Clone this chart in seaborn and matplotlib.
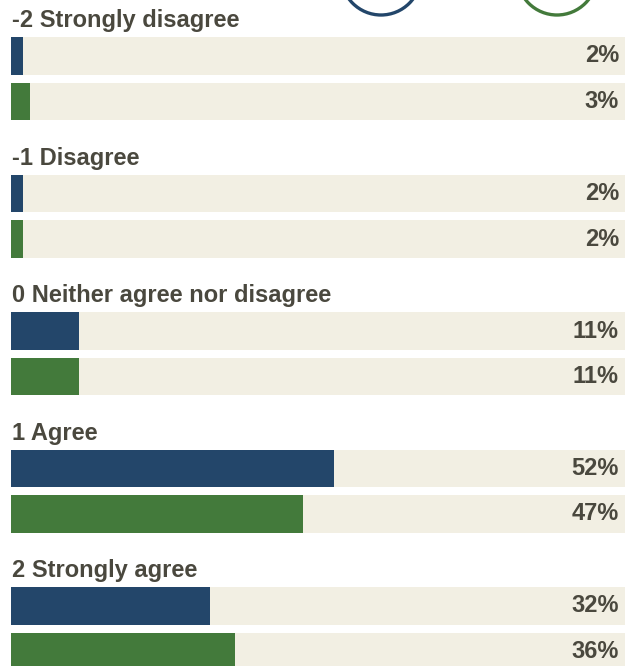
import matplotlib
matplotlib.use("Agg")
import matplotlib.pyplot as plt
import seaborn as sns
import pandas as pd
from matplotlib.patches import Circle

# ---- data ----
categories = ["-2 Strongly disagree", "-1 Disagree", "0 Neither agree nor disagree",
              "1 Agree", "2 Strongly agree"]
series = ["Group A", "Group B"]
values_a = [2, 2, 11, 52, 32]
values_b = [3, 2, 11, 47, 36]

colors = ["#23466a", "#437a3b"]
track_color = "#f2efe3"
text_color = "#4a483e"

sns.set_theme(style="white")
plt.rcParams["font.family"] = ["Liberation Sans", "DejaVu Sans"]

W, H = 625, 666
fig = plt.figure(figsize=(W / 100, H / 100), dpi=100)
fig.patch.set_facecolor("white")

left_px = 11
px_per_pct = 6.21
xmax = (W - left_px) / px_per_pct

for i, cat in enumerate(categories):
    top = 33.25 + 137.5 * i
    ax = fig.add_axes([left_px / W, 1 - (top + 91) / H, (W - left_px) / W, 91 / H])
    df = pd.DataFrame({"series": series,
                       "value": [values_a[i], values_b[i]],
                       "full": [100, 100]})
    sns.barplot(data=df, x="full", y="series", color=track_color, width=0.835,
                saturation=1, linewidth=0, ax=ax, errorbar=None)
    sns.barplot(data=df, x="value", y="series", hue="series", palette=colors,
                width=0.835, saturation=1, linewidth=0, ax=ax, legend=False,
                errorbar=None)
    for j, v in enumerate(df["value"]):
        ax.text((619 - left_px) / px_per_pct, j, f"{v}%", ha="right", va="center",
                fontsize=17, fontweight="bold", color=text_color)
    ax.set_xlim(0, xmax)
    ax.set_ylim(1.5, -0.5)
    ax.axis("off")
    fig.text(12 / W, 1 - (top - 6) / H, cat, ha="left", va="baseline",
             fontsize=17, fontweight="bold", color=text_color)

# partially visible legend circles at the top
for cx, col in [(381, colors[0]), (557, colors[1])]:
    c = Circle((cx / 100, (H + 25) / 100), 0.40, fill=False, edgecolor=col,
               linewidth=2.4, transform=fig.dpi_scale_trans, clip_on=False)
    fig.add_artist(c)

fig.savefig("out.png", dpi=100)
